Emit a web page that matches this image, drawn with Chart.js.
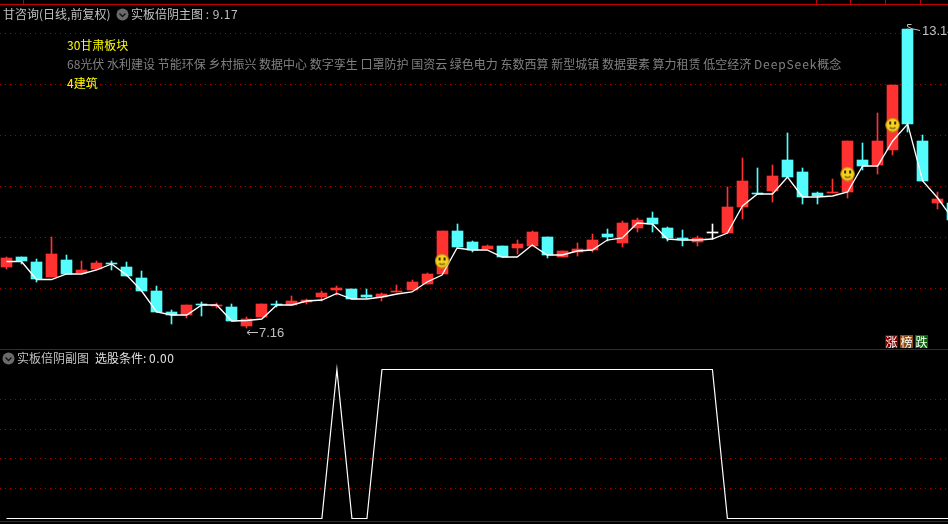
<!DOCTYPE html>
<html lang="zh">
<head>
<meta charset="utf-8">
<title>实板倍阴</title>
<script src="https://cdn.jsdelivr.net/npm/chart.js@4"></script>
<style>
    html, body { margin:0; padding:0; background:#000; width:948px; height:524px; overflow:hidden; }
    body { position:relative; font-family:"Noto Sans CJK SC","Noto Sans",sans-serif; font-size:12px; line-height:14px; }
    canvas { position:absolute; left:0; display:block; }
    #main { top:0; }
    #sub  { top:350px; }
    .txt  { position:absolute; white-space:pre; color:#c0c0c0; }
    .yel  { color:#ffff00; }
    .gry  { color:#808080; }
    .rule { position:absolute; left:0; width:948px; height:1px; background:#a00000; }
    .tick { position:absolute; top:0; width:1px; height:4px; background:#c00000; }
    .icon { position:absolute; width:13px; height:13px; }
    .tag  { position:absolute; top:335px; width:13px; height:13px; color:#fff; text-align:center; line-height:13px; }
    .wide { letter-spacing:0.5px; }
    .word { letter-spacing:0.9px; }
</style>
</head>
<body>
<canvas id="main" width="948" height="349"></canvas>
<canvas id="sub" width="948" height="174"></canvas>

<div class="rule" style="top:4px;background:#c00000"></div>
<div class="tick" style="left:23px"></div>
<div class="tick" style="left:816px"></div>
<div class="tick" style="left:850px"></div>
<div class="tick" style="left:885px"></div>
<div class="tick" style="left:920px"></div>
<div class="rule" style="top:349px"></div>
<div class="rule" style="top:521px"></div>

<div class="txt" style="left:3px;top:7px">甘咨询(日线,前复权)</div>
<svg class="icon" style="left:116px;top:8px" viewBox="0 0 13 13"><circle cx="6.5" cy="6.5" r="6" fill="#6a6a6a"/><path d="M3.5 5.5 L6.5 8.5 L9.5 5.5" fill="none" stroke="#111" stroke-width="1.3"/></svg>
<div class="txt" style="left:131px;top:7px">实板倍阴主图 <span class="wide">: 9.17</span></div>

<div class="txt yel" style="left:67px;top:38px">30甘肃板块</div>
<div class="txt gry" style="left:67px;top:57px">68光伏 水利建设 节能环保 乡村振兴 数据中心 数字孪生 口罩防护 国资云 绿色电力 东数西算 新型城镇 数据要素 算力租赁 低空经济 <span class="word">DeepSeek</span>概念</div>
<div class="txt yel" style="left:67px;top:76px">4建筑</div>

<svg class="icon" style="left:2px;top:352px" viewBox="0 0 13 13"><circle cx="6.5" cy="6.5" r="6" fill="#6a6a6a"/><path d="M3.5 5.5 L6.5 8.5 L9.5 5.5" fill="none" stroke="#111" stroke-width="1.3"/></svg>
<div class="txt" style="left:17px;top:351px">实板倍阴副图</div>
<div class="txt" style="left:95px;top:351px;color:#e0e0e0">选股条件: <span class="wide">0.00</span></div>

<div class="tag" style="left:885px;background:#800000">涨</div>
<div class="tag" style="left:900px;background:#8a4a10">榜</div>
<div class="tag" style="left:915px;background:#006a00">跌</div>

<script>
// ── Data ───────────────────────────────────────
const openP  = [8.38,8.58,8.48,8.18,8.52,8.26,8.34,8.46,8.38,8.16,7.90,7.48,7.42,7.64,7.60,7.58,
                7.20,7.38,7.64,7.62,7.68,7.78,7.92,7.94,7.82,7.78,7.88,7.92,8.04,8.24,9.10,8.88,
                8.74,8.80,8.76,8.80,8.98,8.58,8.68,8.72,9.04,8.86,9.16,9.36,9.16,8.96,8.88,9.08,
                9.06,9.58,9.86,9.90,10.52,10.28,9.86,9.86,9.88,10.52,10.42,10.72,13.14,10.90,9.66,9.66];
const closeP = [8.56,8.50,8.14,8.64,8.24,8.32,8.46,8.44,8.20,7.90,7.48,7.42,7.62,7.62,7.62,7.30,
                7.34,7.64,7.62,7.70,7.72,7.86,7.96,7.74,7.78,7.84,7.90,8.08,8.24,9.10,8.78,8.72,
                8.80,8.58,8.84,9.08,8.62,8.70,8.74,8.92,8.98,9.26,9.32,9.24,8.96,8.92,8.96,9.08,
                9.58,10.10,9.84,10.20,10.18,9.78,9.80,9.88,10.90,10.40,10.90,12.02,11.24,10.10,9.74,9.32];
const highP  = [8.58,8.58,8.54,8.98,8.62,8.50,8.50,8.50,8.48,8.30,8.00,7.52,7.62,7.68,7.66,7.64,
                7.38,7.64,7.70,7.80,7.74,7.90,8.00,7.94,7.94,7.86,8.02,8.12,8.26,9.10,9.24,8.90,
                8.82,8.80,8.92,9.10,8.98,8.70,8.86,9.04,9.14,9.30,9.36,9.48,9.18,9.12,9.00,9.24,
                9.98,10.56,10.36,10.42,11.06,10.36,9.88,10.14,10.90,10.86,11.46,12.02,13.14,11.02,9.88,9.66];
const lowP   = [8.34,8.44,8.08,8.18,8.24,8.26,8.32,8.32,8.20,7.90,7.48,7.24,7.36,7.40,7.56,7.30,
                7.16,7.38,7.58,7.62,7.64,7.70,7.82,7.74,7.76,7.70,7.88,7.92,8.04,8.24,8.78,8.68,
                8.74,8.58,8.64,8.80,8.56,8.58,8.60,8.68,8.90,8.78,9.08,9.08,8.90,8.80,8.80,8.94,
                9.06,9.34,9.84,9.68,10.18,9.64,9.64,9.86,9.76,10.32,10.24,10.62,11.08,10.10,9.54,9.32];
const trendP = [8.49,8.49,8.13,8.13,8.24,8.24,8.32,8.44,8.22,7.90,7.48,7.42,7.42,7.62,7.62,7.30,
                7.31,7.34,7.62,7.62,7.70,7.72,7.85,7.74,7.74,7.78,7.84,7.88,8.08,8.22,8.76,8.72,
                8.72,8.58,8.58,8.82,8.62,8.62,8.70,8.72,8.92,8.96,9.26,9.24,8.94,8.92,8.92,8.94,
                9.06,9.60,9.84,9.84,10.18,9.78,9.78,9.80,9.88,10.40,10.40,10.90,11.24,10.10,9.76,9.34];
const subValues = [0,0,0,0,0,0,0,0,0,0,0,0,0,0,0,0,0,0,0,0,0,0,1,0,0,1,1,1,1,1,1,1,
                   1,1,1,1,1,1,1,1,1,1,1,1,1,1,1,1,0,0,0,0,0,0,0,0,0,0,0,0,0,0,0,0];
const signalIdx   = [29, 56, 59];
const signalPrice = [8.50, 10.24, 11.22];
const priceTicks  = [7.96, 8.98, 10.00, 11.02, 12.04, 13.06];
const subTicks    = [0.2, 0.4, 0.6, 0.8];
const lowMark  = { i:16, value:7.16, text:'7.16' };
const highMark = { i:60, value:13.14, text:'13.14' };

const RED   = '#ff3232';
const CYAN  = '#54fcfc';
const GRID  = '#b00000';
const X_MIN = -0.4308;
const X_MAX = 62.685;

// ── Helpers ────────────────────────────────────
function candleColor(i) {
    if (closeP[i] > openP[i]) return RED;
    if (closeP[i] < openP[i]) return CYAN;
    return '#ffffff';
}

function gridOpts(ticks) {
    return {
        type: 'linear',
        afterBuildTicks: s => { s.ticks = ticks.map(v => ({ value:v })); },
        ticks:  { display:false },
        border: { display:false, dash:[1,4] },
        grid:   { color:GRID, lineWidth:1, drawTicks:false },
    };
}

function xOpts() {
    return {
        type:'linear', min:X_MIN, max:X_MAX, offset:false, display:false,
        grid:{ display:false, offset:false },
    };
}

function baseOpts() {
    return {
        responsive: false,
        animation:  false,
        events:     [],
        layout:     { padding:0, autoPadding:false },
        plugins:    { legend:{ display:false }, tooltip:{ enabled:false } },
    };
}

function smileyImage() {
    const c = document.createElement('canvas');
    c.width = c.height = 15;
    const g = c.getContext('2d');
    g.fillStyle = '#f6d21e';
    g.strokeStyle = '#b08a10';
    g.beginPath(); g.arc(7.5, 7.5, 6.8, 0, Math.PI*2); g.fill(); g.stroke();
    g.fillStyle = '#3a2a00';
    g.fillRect(4, 4, 2, 3);
    g.fillRect(9, 4, 2, 3);
    g.strokeStyle = '#3a2a00';
    g.lineWidth = 1.2;
    g.beginPath(); g.arc(7.5, 7, 4, 0.25*Math.PI, 0.75*Math.PI); g.stroke();
    return c;
}

// Bars land on whole pixels, like the terminal draws them
const snapBars = {
    id: 'snapBars',
    afterDatasetsUpdate(chart) {
        chart.data.datasets.forEach((ds, k) => {
            if (ds.type !== 'bar') return;
            chart.getDatasetMeta(k).data.forEach(el => {
                el.x = Math.floor(el.x) + 0.5;
                el.y = Math.round(el.y);
                el.base = Math.round(el.base);
                if (el.y === el.base) el.base += 1;
            });
        });
    },
};

// High and low labels with their little arrows
const extremeMarks = {
    id: 'extremeMarks',
    afterDatasetsDraw(chart) {
        const { ctx, scales:{ x, y } } = chart;
        ctx.save();
        ctx.strokeStyle = ctx.fillStyle = '#c0c0c0';
        ctx.lineWidth = 1;
        ctx.font = '13px "Liberation Sans"';
        ctx.textBaseline = 'middle';

        const lx = Math.floor(x.getPixelForValue(lowMark.i));
        const ly = Math.round(y.getPixelForValue(lowMark.value)) + 4.5;
        ctx.beginPath();
        ctx.moveTo(lx + 12, ly); ctx.lineTo(lx + 1, ly);
        ctx.moveTo(lx + 4, ly - 2.5); ctx.lineTo(lx + 1, ly); ctx.lineTo(lx + 4, ly + 2.5);
        ctx.stroke();
        ctx.fillText(lowMark.text, lx + 13, ly + 1);

        const hx = Math.floor(x.getPixelForValue(highMark.i));
        const hy = Math.round(y.getPixelForValue(highMark.value));
        ctx.beginPath();
        ctx.moveTo(hx + 13, hy + 1.5); ctx.lineTo(hx + 4, hy - 0.5);
        ctx.moveTo(hx + 4.5, hy - 4.5); ctx.lineTo(hx + 0.5, hy - 4.5); ctx.lineTo(hx + 0.5, hy - 2.5); ctx.lineTo(hx + 4.5, hy - 0.5);
        ctx.stroke();
        ctx.fillText(highMark.text, hx + 15, hy + 2);
        ctx.restore();
    },
};

// ── Main pane ──────────────────────────────────
const idx = openP.map((_, i) => i);

new Chart(document.getElementById('main'), {
    type: 'bar',
    data: {
        datasets: [
            {
                type: 'bar', order: 4, grouped: false, barThickness: 1,
                data: idx.map(i => ({ x:i, y:[lowP[i], highP[i]] })),
                backgroundColor: idx.map(candleColor),
            },
            {
                type: 'bar', order: 3, grouped: false, barThickness: 11,
                data: idx.map(i => ({ x:i, y:[openP[i], closeP[i]] })),
                backgroundColor: idx.map(candleColor),
            },
            {
                type: 'line', order: 2,
                data: idx.map(i => ({ x:i, y:trendP[i] })),
                borderColor: '#ffffff', borderWidth: 1.3, pointRadius: 0, tension: 0,
            },
            {
                type: 'scatter', order: 1,
                data: signalIdx.map((i, k) => ({ x:i, y:signalPrice[k] })),
                pointStyle: smileyImage(), pointRadius: 7,
            },
        ],
    },
    options: {
        ...baseOpts(),
        scales: {
            x: xOpts(),
            y: { ...gridOpts(priceTicks), min:6.74, max:13.72 },
        },
    },
    plugins: [snapBars, extremeMarks],
});

// ── Sub pane ───────────────────────────────────
new Chart(document.getElementById('sub'), {
    type: 'line',
    data: {
        datasets: [{
            data: idx.map(i => ({ x:i, y:subValues[i] })),
            borderColor: '#ffffff', borderWidth: 1.2, pointRadius: 0, tension: 0,
        }],
    },
    options: {
        ...baseOpts(),
        scales: {
            x: xOpts(),
            y: { ...gridOpts(subTicks), min:-0.0369, max:1.1309 },
        },
    },
});
</script>
</body>
</html>
